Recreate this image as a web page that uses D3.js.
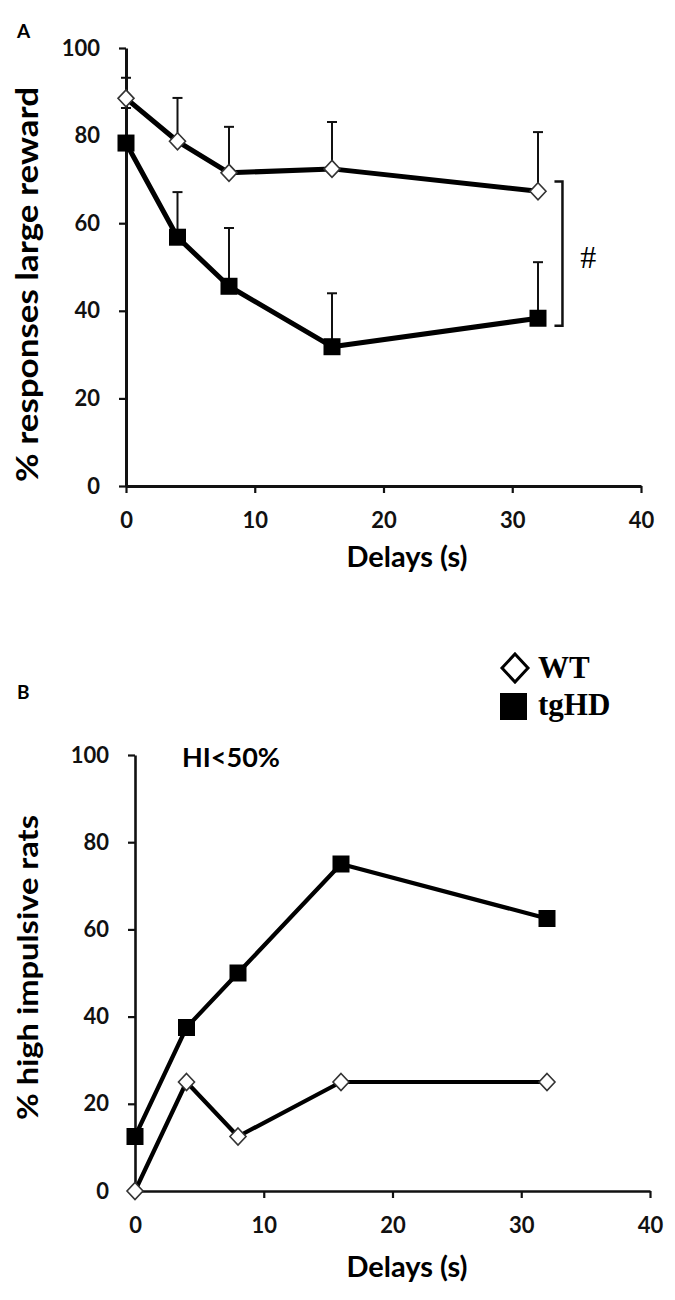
<!DOCTYPE html>
<html>
<head>
<meta charset="utf-8">
<script src="https://cdn.jsdelivr.net/npm/d3@7"></script>
<style>
  body { margin: 0; background: #fff; }
  svg { display: block; }
  .tick text { font-family: Lato, "Open Sans", sans-serif; font-weight: bold; fill: #111; }
</style>
</head>
<body>
<script>
// delays (s) on the x axis, same for both panels
const delays = [0, 4, 8, 16, 32];
const xTicks = [0, 10, 20, 30, 40];
const yTicks = [0, 20, 40, 60, 80, 100];

// panel A: % responses for the large reward (mean, upper error)
const wtReward = [88.5, 78.7, 71.5, 72.4, 67.3];
const wtRewardErr = [4.7, 9.9, 10.5, 10.7, 13.5];
const tgReward = [78.3, 56.8, 45.6, 31.8, 38.3];
const tgRewardErr = [8, 10.3, 13.3, 12.2, 12.8];

// significance bracket at the last delay (from, to) and its label
const sigRange = [36.6, 69.5];
const sigLabel = "#";

// panel B: % high impulsive rats
const wtImpulsive = [0, 25, 12.5, 25, 25];
const tgImpulsive = [12.5, 37.5, 50, 75, 62.5];

const legendNames = ["WT", "tgHD"];

const svg = d3.select("body").append("svg")
    .attr("width", 675).attr("height", 1300);
svg.append("rect").attr("width", 675).attr("height", 1300).attr("fill", "#fff");

function diamond(cx, cy, w, h) {
    return "M" + cx + "," + (cy - h / 2) + "L" + (cx + w / 2) + "," + cy +
        "L" + cx + "," + (cy + h / 2) + "L" + (cx - w / 2) + "," + cy + "Z";
}

function axes(x, y, axisW) {
    const g = svg.append("g");
    g.append("g")
        .attr("transform", "translate(0," + y(0) + ")")
        .call(d3.axisBottom(x).tickValues(xTicks).tickSize(7).tickSizeOuter(0).tickPadding(19));
    g.append("g")
        .attr("transform", "translate(" + x(0) + ",0)")
        .call(d3.axisLeft(y).tickValues(yTicks).tickSize(7).tickSizeOuter(0).tickPadding(19));
    g.selectAll(".domain").attr("stroke", "#111").attr("stroke-width", axisW);
    g.selectAll(".tick line").attr("stroke", "#111").attr("stroke-width", 2.2);
    g.selectAll(".tick text").style("font-size", "22px");
}

function series(x, y, vals, kind, lw) {
    const pts = delays.map((d, i) => [d, vals[i]]);
    svg.append("path")
        .datum(pts)
        .attr("fill", "none")
        .attr("stroke", "#000")
        .attr("stroke-width", lw)
        .attr("stroke-linejoin", "round")
        .attr("d", d3.line().x(d => x(d[0])).y(d => y(d[1])));
    if (kind === "wt") {
        svg.append("g").selectAll("path")
            .data(pts)
            .join("path")
            .attr("d", d => diamond(x(d[0]), y(d[1]), 16, 17))
            .attr("fill", "#fff")
            .attr("stroke", "#333")
            .attr("stroke-width", 1.6);
    } else {
        svg.append("g").selectAll("rect")
            .data(pts)
            .join("rect")
            .attr("x", d => x(d[0]) - 8.5)
            .attr("y", d => y(d[1]) - 8.5)
            .attr("width", 17).attr("height", 17)
            .attr("fill", "#000");
    }
}

function errorBars(x, y, vals, errs) {
    const g = svg.append("g").attr("stroke", "#111").attr("stroke-width", 2);
    delays.forEach((d, i) => {
        const top = y(vals[i] + errs[i]);
        g.append("line").attr("x1", x(d)).attr("x2", x(d))
            .attr("y1", y(vals[i])).attr("y2", top);
        g.append("line").attr("x1", x(d) - 5).attr("x2", x(d) + 5)
            .attr("y1", top).attr("y2", top);
    });
}

// ---------- panel A ----------
const xA = d3.scaleLinear().domain([0, 40]).range([126, 641]);
const yA = d3.scaleLinear().domain([0, 100]).range([486, 48]);

axes(xA, yA, 3);
errorBars(xA, yA, wtReward, wtRewardErr);
errorBars(xA, yA, tgReward, tgRewardErr);
series(xA, yA, wtReward, "wt", 5);
series(xA, yA, tgReward, "tg", 5);

// bracket
const bx = xA(33.9);
svg.append("path")
    .attr("d", "M" + (bx - 8) + "," + yA(sigRange[1]) + "H" + bx + "V" + yA(sigRange[0]) + "H" + (bx - 8))
    .attr("fill", "none").attr("stroke", "#111").attr("stroke-width", 2.5);
svg.append("text")
    .attr("x", xA(35.9)).attr("y", yA(sigRange[0] + 13.1))
    .attr("text-anchor", "middle")
    .style("font-family", "'Liberation Serif', serif")
    .style("font-size", "32px")
    .text(sigLabel);

svg.append("text").text("A")
    .attr("x", 17).attr("y", 38)
    .style("font-family", "Lato, sans-serif").style("font-weight", "bold").style("font-size", "19px");
svg.append("text").text("Delays (s)")
    .attr("x", 407).attr("y", 567).attr("text-anchor", "middle")
    .style("font-family", "Lato, sans-serif").style("font-weight", "bold").style("font-size", "29px");
svg.append("text").text("% responses  large reward")
    .attr("transform", "translate(38,482) rotate(-90)")
    .attr("textLength", 395).attr("lengthAdjust", "spacingAndGlyphs")
    .style("font-family", "Lato, sans-serif").style("font-weight", "bold").style("font-size", "31px");

// ---------- panel B ----------
const xB = d3.scaleLinear().domain([0, 40]).range([135, 650]);
const yB = d3.scaleLinear().domain([0, 100]).range([1191, 755]);

axes(xB, yB, 2.6);
series(xB, yB, tgImpulsive, "tg", 4.2);
series(xB, yB, wtImpulsive, "wt", 4.2);

svg.append("text").text("B")
    .attr("x", 17).attr("y", 699)
    .style("font-family", "Lato, sans-serif").style("font-weight", "bold").style("font-size", "19px");
svg.append("text").text("HI<50%")
    .attr("x", 182).attr("y", 767)
    .style("font-family", "Lato, sans-serif").style("font-weight", "bold").style("font-size", "27px");
svg.append("text").text("Delays (s)")
    .attr("x", 407).attr("y", 1277).attr("text-anchor", "middle")
    .style("font-family", "Lato, sans-serif").style("font-weight", "bold").style("font-size", "29px");
svg.append("text").text("% high impulsive rats")
    .attr("transform", "translate(38,1120) rotate(-90)")
    .attr("textLength", 305).attr("lengthAdjust", "spacingAndGlyphs")
    .style("font-family", "Lato, sans-serif").style("font-weight", "bold").style("font-size", "29px");

// legend
const lg = svg.append("g");
lg.append("path").attr("d", diamond(515, 668, 26, 28))
    .attr("fill", "#fff").attr("stroke", "#000").attr("stroke-width", 3);
lg.append("rect").attr("x", 500).attr("y", 693).attr("width", 27).attr("height", 27).attr("fill", "#000");
lg.selectAll("text")
    .data(legendNames)
    .join("text")
    .attr("x", 538)
    .attr("y", (d, i) => 678 + i * 37)
    .style("font-family", "'Liberation Serif', 'Times New Roman', serif")
    .style("font-weight", "bold")
    .style("font-size", "31px")
    .text(d => d);
</script>
</body>
</html>
